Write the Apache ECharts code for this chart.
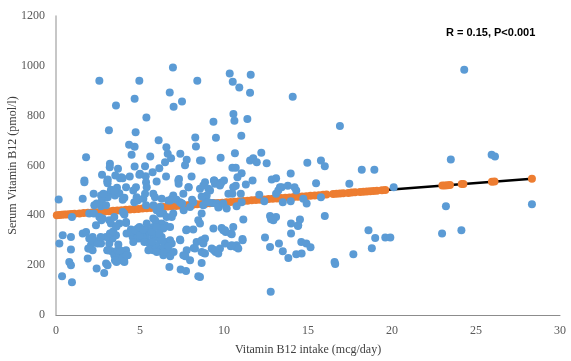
<!DOCTYPE html>
<html>
<head>
<meta charset="utf-8">
<script src="https://cdn.jsdelivr.net/npm/echarts@6/dist/echarts.min.js"></script>
<style>
  html, body { margin: 0; padding: 0; background: #fff; }
  #chart { width: 571px; height: 361px; }
</style>
</head>
<body>
<div id="chart"></div>
<script>
const observed = [
  [2.58,940],[4.96,940],[6.96,993],[8.41,940],[6.77,893],[7.5,857],[4.68,868],[3.57,841],[7.0,836],[5.38,793],
  [3.15,741],[4.74,733],[8.29,712],[6.11,701],[4.35,683],[4.68,675],[6.57,673],[8.33,676],[4.5,643],[6.85,629],
  [7.4,647],[6.65,647],[5.61,636],[1.79,633],[8.57,620],[6.49,613],[7.78,623],[3.21,607],[3.2,593],[3.69,587],
  [4.68,596],[5.3,597],[6.15,589],[7.68,601],[2.74,563],[3.53,560],[3.89,553],[4.39,556],[5.0,567],[5.34,557],
  [5.75,573],[6.55,556],[8.07,556],[1.69,540],[3.05,537],[7.32,546],[9.42,540],[9.8,531],[3.81,549],[3.97,549],
  [4.96,563],[3.08,544],
  [10.34,969],[11.59,964],[10.52,936],[10.91,913],[11.55,892],[14.09,876],[10.56,807],[10.62,780],[11.39,787],[9.37,776],
  [9.52,711],[11.03,719],[16.9,759],[8.67,620],[9.8,631],[10.65,649],[12.22,651],[11.55,620],[11.74,629],[11.95,613],
  [12.54,609],[10.5,591],[10.7,591],[11.05,569],[10.8,553],[14.96,611],[15.77,620],[16.0,597],[13.97,568],[18.2,583],
  [18.95,583],[9.4,540],[12.84,544],[13.1,549],
  [24.3,984],[23.5,624],[25.93,643],[26.13,636],[23.21,436],[22.98,327],[24.13,340],[28.33,444],[20.1,513],
  [8.87,533],[9.82,529],[10.55,513],[10.7,519],[11.3,524],[13.43,513],[13.8,519],[15.48,529],[17.46,527],[11.7,540],
  [10.0,540],[14.2,513],[14.3,500],[13.33,513],[13.23,500],
  [8.93,460],[9.3,449],[10.26,487],[10.5,487],[11.0,487],[12.1,483],[13.1,487],[9.7,433],[12.4,457],[13.5,453],
  [13.97,457],[14.72,467],[14.92,447],[15.77,473],
  [12.74,397],[12.8,384],[13.1,393],[13.99,367],[14.52,383],[14.4,357],[13.99,327],[11.15,383],[10.55,353],[9.96,340],
  [10.1,333],[10.4,327],[9.37,347],[16.0,397],[18.6,340],[19.0,309],[19.6,311],[19.9,311],[18.8,268],[17.7,244],
  [16.58,213],[16.62,205],[12.44,311],[12.74,273],[13.27,287],[13.5,256],[13.83,229],[14.3,244],[14.62,247],[14.6,293],
  [14.9,287],[15.15,272],[12.78,93],[11.1,305],[10.7,273],[10.4,276],[9.4,260],[9.5,253],[8.57,153],[8.77,293],
  [8.8,249],[12.94,380],[14.42,360],
  [7.28,540],[7.88,513],[8.57,507],[8.77,520],[9.07,507],[9.17,500],[9.46,527],[9.76,520],[8.97,480],[8.67,476],
  [7.58,487],[5.99,536],[5.79,487],[5.89,473],[6.29,467],[6.68,460],[6.89,467],[7.18,463],[7.38,453],[6.98,480],
  [7.48,447],[7.98,433],[8.17,453],[8.77,440],[9.07,453],[9.56,447],[9.66,431],[9.96,447],[10.16,427],[10.75,436],
  [11.05,453],
  [5.99,420],[6.19,407],[5.79,387],[6.39,407],[6.59,393],[6.89,393],[6.98,407],[6.09,367],[6.29,367],[6.49,360],
  [6.39,347],[6.79,353],[5.79,353],[5.7,340],[5.99,320],[6.29,313],[5.79,307],[6.19,300],[6.59,293],[6.79,300],
  [6.89,287],[5.99,280],[6.29,267],[6.49,260],[6.68,253],[6.79,247],[6.39,240],[5.79,260],[5.7,273],
  [7.78,343],[8.17,343],[7.38,303],[8.47,380],[8.57,367],[8.67,407],[9.86,349],[10.06,340],[10.46,324],[11.11,300],
  [10.75,280],[10.85,267],[10.46,280],[10.06,287],[8.37,293],[8.67,300],[8.87,307],[8.77,287],[8.27,267],[8.67,253],
  [8.87,247],[7.78,260],[7.58,240],[7.98,220],[9.27,267],[9.46,260],[9.76,267],[9.66,247],
  [6.75,193],[7.42,183],[7.74,177],[8.67,209],[8.47,156],
  [0.16,464],[1.59,467],[1.69,533],[3.07,529],[3.27,503],[3.63,511],[4.17,513],[4.76,513],[5.36,533],
  [2.24,487],[2.68,480],[3.17,487],[3.51,480],[3.77,489],[2.74,463],[3.08,473],[3.97,463],[4.07,471],[4.66,453],
  [4.86,460],[5.36,440],[2.28,440],[2.68,436],[2.98,440],
  [0.95,393],[1.98,407],[2.58,393],[2.78,387],[3.17,380],[3.47,393],[3.97,413],[4.07,403],[2.38,360],[3.27,367],
  [3.57,356],[3.77,367],[4.17,373],[4.46,343],[4.86,347],[5.06,340],[5.26,329],[5.56,340],[5.75,327],[5.36,313],
  [4.76,333],[4.56,313],[4.96,307],[5.16,313],[5.26,293],[5.56,287],
  [0.4,320],[0.89,313],[0.2,287],[1.59,327],[1.79,333],[1.98,307],[2.18,313],[2.38,293],[2.08,280],[2.58,300],
  [2.68,287],[3.17,287],[3.37,307],[3.57,320],[2.98,313],
  [0.89,263],[1.98,267],[2.18,260],[1.89,227],[3.08,260],[3.27,257],[3.47,240],[3.67,260],[3.77,247],[3.97,233],
  [4.27,240],[4.07,213],[3.87,220],[3.67,227],[4.17,260],
  [2.98,207],[3.07,200],[2.42,187],[2.87,169],[0.79,213],[0.89,200],[0.36,156],[0.95,131],
  [1.92,267],[2.12,300],[2.26,407],[2.48,287],[2.66,313],[3.05,260],[3.21,327],[3.51,220],[3.6,213],[3.81,260],
  [3.95,228],[4.05,220],[4.2,240],[3.71,283],[3.4,335],[3.6,355],[4.05,407],[4.17,369],[2.7,380],[2.42,447],
  [2.82,487],[3.47,500],[4.6,500],[4.8,473],[5.2,467],[5.3,487],[5.8,440],[6.2,433],[6.8,460],[7.5,447],
  [7.6,420],[8.1,463],[7.9,513],[7.3,527],[5.4,513],[4.2,327],[4.5,333],[4.7,340],[4.97,353],[4.8,307],
  [4.6,293],[5.0,320],[5.2,343],[5.4,367],[5.7,333],[5.9,380],[6.0,353],[6.15,327],[6.3,300],[6.4,273],
  [6.4,253],[6.6,253],[6.7,276],[6.0,253],[5.5,260],[5.7,293],[6.8,236],[7.0,253],[7.7,236],[7.4,300],
  [7.75,340],[8.2,269]
];

// predicted values (orange dots on the fit line)
const predicted = [
  [0.05,400],[0.2,401],[0.35,402],[0.5,403],[0.65,403],[0.8,404],[0.95,405],[1.1,406],
  [1.4,407],[1.65,409],[1.9,410],[2.15,411],[2.4,412],[2.65,414],[2.9,415],[3.15,416],[3.4,418],[3.65,419],
  [3.9,420],[4.15,422],[4.4,423],[4.65,424],[4.9,425],[5.15,427],[5.4,428],[5.65,429],[5.9,431],[6.15,432],
  [6.4,433],[6.65,435],[6.9,436],[7.15,437],[7.4,438],[7.65,440],[7.9,441],[8.15,442],[8.4,444],[8.65,445],
  [8.9,446],[9.15,448],[9.4,449],[9.65,450],[9.9,451],[10.15,453],[10.4,454],[10.65,455],[10.9,457],[11.15,458],
  [11.4,459],[11.65,461],[11.9,462],[12.15,463],[12.4,464],[12.65,466],[12.9,467],[13.15,468],[13.4,470],[13.65,471],
  [13.9,472],[14.15,474],[14.4,475],[14.65,476],[14.9,477],[15.15,479],[15.4,480],[15.65,481],[15.9,483],[16.1,484],
  [16.5,486],[16.7,487],[16.9,488],[17.1,489],[17.4,490],[17.6,492],[17.8,493],
  [18.1,494],[18.3,495],[18.5,496],[18.7,497],[18.9,498],[19.1,499],[19.4,501],[19.6,502],
  [23.0,520],[23.15,520],[23.3,521],[23.45,522],[24.15,526],[24.25,526],[25.95,535],[26.1,536],[28.33,547]
];

// fitted line ends
const fitLine = [[0, 400], [28.33, 547]];

const statText = 'R = 0.15, P<0.001';
const xTitle = 'Vitamin B12 intake (mcg/day)';
const yTitle = 'Serum Vitamin B12 (pmol/l)';

const myechart = echarts.init(document.getElementById('chart'));
const axisFont = { fontFamily: 'Liberation Serif', fontSize: 12, color: '#595959' };

var option = {
  animation: false,
  title: {
    text: statText,
    left: 446,
    top: 27,
    padding: 0,
    textStyle: { fontFamily: 'Liberation Sans', fontSize: 11, fontWeight: 'bold', color: '#000' }
  },
  grid: { left: 56, right: 11, top: 16, bottom: 46, containLabel: false, outerBoundsMode: 'none' },
  xAxis: {
    type: 'value',
    min: 0, max: 30, interval: 5,
    name: xTitle,
    nameLocation: 'middle',
    nameGap: 29,
    nameMoveOverlap: false,
    nameTextStyle: { fontFamily: 'Liberation Serif', fontSize: 12, color: '#404040' },
    axisLine: { show: true, lineStyle: { color: '#8c8c8c', width: 1 } },
    axisTick: { show: false },
    splitLine: { show: false },
    axisLabel: Object.assign({ margin: 10, formatter: v => String(v) }, axisFont)
  },
  yAxis: {
    type: 'value',
    min: 0, max: 1200, interval: 200,
    name: yTitle,
    nameLocation: 'middle',
    nameGap: 37,
    nameMoveOverlap: false,
    nameTextStyle: { fontFamily: 'Liberation Serif', fontSize: 12, color: '#404040' },
    axisLine: { show: true, lineStyle: { color: '#b4b4b4', width: 1.5 } },
    axisTick: { show: false },
    splitLine: { show: false },
    axisLabel: Object.assign({ margin: 11, formatter: v => String(v) }, axisFont)
  },
  series: [
    {
      type: 'line',
      data: fitLine,
      showSymbol: false,
      lineStyle: { color: '#000', width: 2.5 },
      z: 1
    },
    {
      type: 'scatter',
      data: predicted,
      symbolSize: 8,
      itemStyle: { color: '#ED7D31', opacity: 1 },
      z: 2
    },
    {
      type: 'scatter',
      data: observed,
      symbolSize: 8,
      itemStyle: { color: '#5B9BD5', opacity: 1 },
      z: 3
    }
  ]
};
myechart.setOption(option);
</script>
</body>
</html>
